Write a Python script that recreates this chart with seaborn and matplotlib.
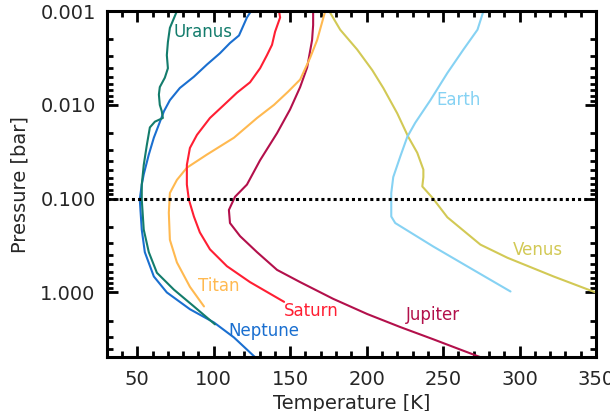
import numpy as np
import pandas as pd
import seaborn as sns
import matplotlib.pyplot as plt
from matplotlib.ticker import FixedLocator, MultipleLocator, LogLocator, NullFormatter

# temperature [K] / pressure [bar] profiles
uranus_T = [75.9, 71.3, 70.0, 69.3, 70.0, 68.0, 64.7, 64.1, 64.7, 66.0, 66.7, 61.5, 58.2,
            56.2, 54.2, 52.9, 52.9, 54.2, 57.5, 62.8, 73.9, 87.0, 100.8]
uranus_P = [0.001, 0.00151, 0.00214, 0.00295, 0.00407, 0.00513, 0.00646, 0.00776, 0.0100,
            0.0117, 0.0138, 0.0151, 0.0174, 0.0269, 0.0437, 0.0708, 0.102, 0.214, 0.372,
            0.617, 0.933, 1.41, 2.19]

neptune_T = [124.4, 121.7, 116.5, 110.6, 104.0, 95.5, 87.0, 77.8, 71.3, 67.4, 64.1, 60.8,
             57.5, 54.2, 52.9, 51.6, 52.9, 54.9, 60.8, 69.3, 84.4, 100.1, 113.2, 127.0]
neptune_P = [0.001, 0.00117, 0.00182, 0.00219, 0.00282, 0.00372, 0.00501, 0.00661, 0.00891,
             0.0117, 0.0162, 0.0224, 0.0339, 0.0550, 0.0708, 0.102, 0.214, 0.372, 0.676,
             1.00, 1.51, 2.09, 3.02, 4.9]

saturn_T = [142.7, 143.4, 140.1, 138.1, 134.8, 130.3, 123.7, 115.2, 106.7, 97.5, 89.0, 84.4,
            82.4, 82.4, 83.7, 87.0, 90.9, 97.5, 108.6, 123.7, 146.0]
saturn_P = [0.001, 0.00117, 0.00166, 0.00229, 0.00295, 0.00407, 0.00575, 0.00741, 0.0100,
            0.0138, 0.0209, 0.0288, 0.0437, 0.0708, 0.102, 0.155, 0.229, 0.347, 0.525,
            0.776, 1.26]

titan_T = [172.9, 167.6, 163.0, 156.5, 148.6, 139.4, 128.3, 113.2, 95.5, 82.4, 75.9, 71.3,
           70.6, 71.3, 75.9, 84.4, 93.6]
titan_P = [0.001, 0.00204, 0.00316, 0.00537, 0.00724, 0.0100, 0.0138, 0.0224, 0.0339, 0.0468,
           0.0631, 0.0871, 0.141, 0.275, 0.479, 0.871, 1.41]

jupiter_T = [165.0, 165.0, 164.3, 161.1, 156.5, 149.9, 141.4, 130.3, 121.7, 113.9, 109.9,
             110.6, 117.2, 128.3, 141.4, 156.5, 178.1, 200.4, 222.0, 243.6, 261.3, 274.4]
jupiter_P = [0.001, 0.00141, 0.00204, 0.00398, 0.00646, 0.0112, 0.0200, 0.0389, 0.0708,
             0.0955, 0.132, 0.182, 0.251, 0.372, 0.575, 0.776, 1.17, 1.70, 2.34, 3.16,
             4.07, 4.9]

earth_T = [276.4, 272.5, 263.3, 252.8, 241.7, 231.8, 226.6, 222.0, 217.4, 216.1, 216.1,
           218.7, 243.6, 269.8, 294.1]
earth_P = [0.001, 0.00158, 0.00257, 0.00457, 0.00891, 0.0155, 0.0219, 0.0355, 0.0589,
           0.0871, 0.155, 0.182, 0.324, 0.575, 0.977]

venus_T = [175.5, 182.7, 193.8, 203.7, 210.9, 220.0, 227.2, 233.1, 237.1, 237.1, 236.4,
           243.0, 252.8, 274.4, 292.1, 322.3, 349.8]
venus_P = [0.001, 0.00158, 0.00257, 0.00427, 0.00661, 0.0123, 0.0219, 0.0324, 0.0490,
           0.0589, 0.0741, 0.0977, 0.158, 0.309, 0.427, 0.676, 1.00]

planets = ['Venus', 'Earth', 'Jupiter', 'Titan', 'Saturn', 'Neptune', 'Uranus']
colors = {'Uranus': '#137C6C', 'Neptune': '#1A6FD0', 'Saturn': '#FF1F33',
          'Titan': '#FFB950', 'Jupiter': '#B3104B', 'Earth': '#86D2F3',
          'Venus': '#D2C955'}
# label centres (T, P)
label_pos = {'Uranus': (92.9, 0.00167), 'Earth': (260.0, 0.00885), 'Venus': (311.8, 0.349),
             'Jupiter': (243.6, 1.76), 'Saturn': (163.7, 1.59), 'Titan': (103.4, 0.863),
             'Neptune': (132.9, 2.6)}

profiles = {'Uranus': (uranus_T, uranus_P), 'Neptune': (neptune_T, neptune_P),
            'Saturn': (saturn_T, saturn_P), 'Titan': (titan_T, titan_P),
            'Jupiter': (jupiter_T, jupiter_P), 'Earth': (earth_T, earth_P),
            'Venus': (venus_T, venus_P)}

rows = []
for name in planets:
    T, P = profiles[name]
    for t, p in zip(T, P):
        rows.append({'planet': name, 'T': t, 'P': p})
df = pd.DataFrame(rows)

sns.set_style('ticks')
plt.rcParams['font.family'] = ['DejaVu Sans']

fig = plt.figure(figsize=(6.1, 4.11), dpi=100)
ax = fig.add_axes([0.175, 0.131, 0.802, 0.842])
ax.set_yscale('log')

sns.lineplot(data=df, x='T', y='P', hue='planet', hue_order=planets, palette=colors,
             sort=False, estimator=None, legend=False, lw=1.5, ax=ax)

ax.axhline(0.1, color='black', ls=(0, (1, 1)), lw=2.2, zorder=5)

for name, (t, p) in label_pos.items():
    ax.text(t, p, name, color=colors[name], fontsize=12, ha='center', va='center')

ax.set_xlim(30, 350)
ax.set_ylim(4.9, 0.001)
ax.xaxis.set_major_locator(FixedLocator([50, 100, 150, 200, 250, 300, 350]))
ax.xaxis.set_minor_locator(MultipleLocator(10))
ax.yaxis.set_major_locator(FixedLocator([0.001, 0.01, 0.1, 1.0]))
ax.yaxis.set_minor_locator(LogLocator(base=10, subs=np.arange(2, 10), numticks=20))
ax.yaxis.set_minor_formatter(NullFormatter())
ax.set_yticklabels(['0.001', '0.010', '0.100', '1.000'])
ax.set_xticklabels(['50', '100', '150', '200', '250', '300', '350'])

ax.tick_params(which='both', direction='in', top=True, right=True, width=2, color='black')
ax.tick_params(which='major', length=8, labelsize=14)
ax.tick_params(axis='x', which='major', pad=9)
ax.tick_params(axis='y', which='major', pad=8)
ax.tick_params(which='minor', length=4)
for sp in ax.spines.values():
    sp.set_linewidth(2.2)
    sp.set_color('black')

ax.set_xlabel('Temperature [K]', fontsize=14, labelpad=4)
ax.set_ylabel('Pressure [bar]', fontsize=14, labelpad=8)

fig.savefig('out.png', dpi=100)
